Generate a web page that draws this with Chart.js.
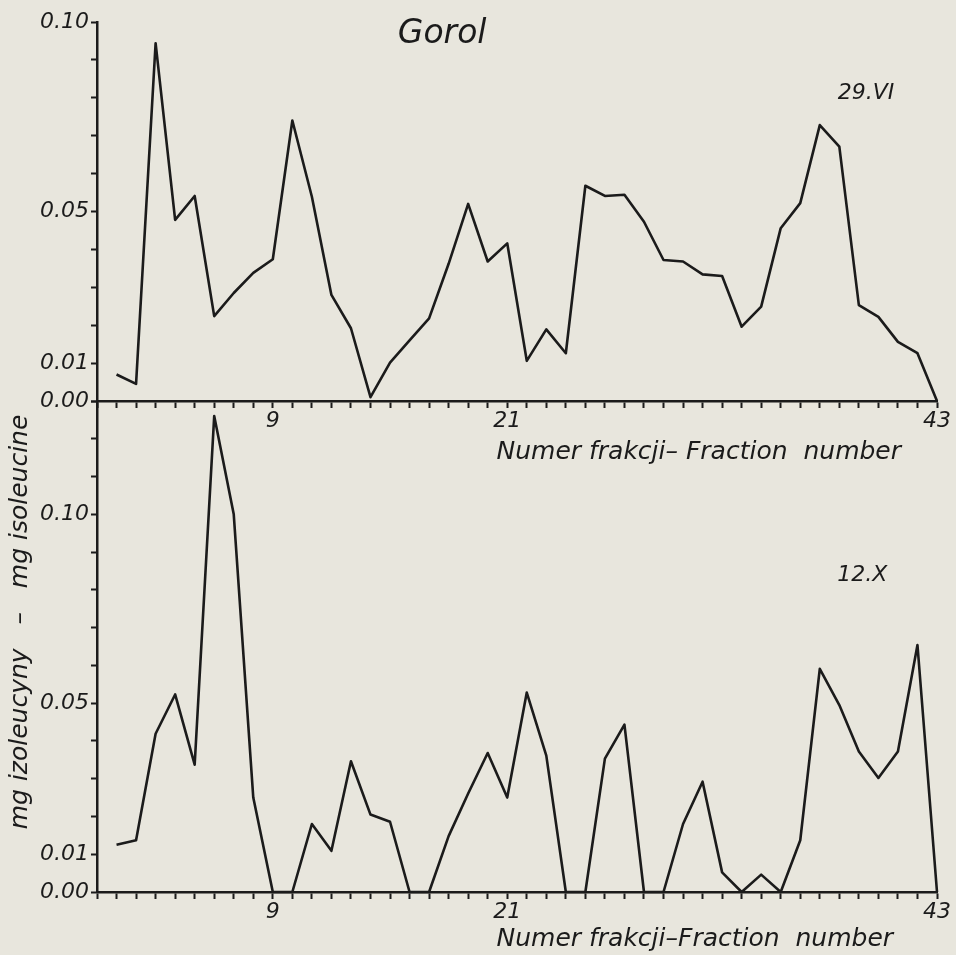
<!DOCTYPE html>
<html>
<head>
<meta charset="utf-8">
<script src="https://cdn.jsdelivr.net/npm/chart.js@4.4.1/dist/chart.umd.min.js"></script>
<style>
    html, body { margin: 0; padding: 0; background: #e8e6dd; }
    #wrap { position: relative; width: 956px; height: 955px; overflow: hidden; }
    canvas { position: absolute; left: 0; }
    #chartJune { top: 0; }
    #chartOctober { top: 380px; }
</style>
</head>
<body>
<div id="wrap">
    <canvas id="chartJune" width="956" height="480"></canvas>
    <canvas id="chartOctober" width="956" height="575"></canvas>
</div>
<script>
// fraction numbers on the x axis
const fractions = [1, 2, 3, 4, 5, 6, 7, 8, 9, 10, 11, 12, 13, 14, 15, 16, 17, 18, 19, 20, 21, 22,
    23, 24, 25, 26, 27, 28, 29, 30, 31, 32, 33, 34, 35, 36, 37, 38, 39, 40, 41, 42, 43];

// mg isoleucine, 29.VI
const june = [0.007, 0.0045, 0.0944, 0.0478, 0.0541, 0.0224, 0.0285, 0.0338, 0.0374, 0.074, 0.0539,
    0.028, 0.0192, 0.001, 0.0101, 0.016, 0.0218, 0.0362, 0.052, 0.0368, 0.0416, 0.0106, 0.0189,
    0.0126, 0.0568, 0.0541, 0.0544, 0.0473, 0.0372, 0.0368, 0.0334, 0.033, 0.0196, 0.0249, 0.0456,
    0.0522, 0.0728, 0.0671, 0.0253, 0.0222, 0.0156, 0.0126, 0];

// mg isoleucine, 12.X
const october = [0.0125, 0.0137, 0.0419, 0.0523, 0.0337, 0.126, 0.1, 0.025, 0, 0, 0.018, 0.0109,
    0.0346, 0.0205, 0.0186, 0, 0, 0.0148, 0.0261, 0.0368, 0.025, 0.0528, 0.0361, 0, 0, 0.0353,
    0.0443, 0, 0, 0.018, 0.0292, 0.0052, 0, 0.0046, 0, 0.0137, 0.0591, 0.0495, 0.0372, 0.0302,
    0.0372, 0.0654, 0];

const xTickLabels = [9, 21, 43];
const yTickLabels = [0, 0.01, 0.05, 0.10];

const INK = '#1b1b1b';
const FAMILY = '"DejaVu Sans", sans-serif';

// free text placed in data coordinates
const notesPlugin = {
    id: 'notes',
    afterDraw(chart, args, opts) {
        const ctx = chart.ctx;
        const xs = chart.scales.x;
        const ys = chart.scales.y;
        (opts.items || []).forEach(n => {
            ctx.save();
            ctx.font = 'italic ' + n.size + 'px ' + FAMILY;
            ctx.fillStyle = INK;
            ctx.textAlign = n.align || 'center';
            ctx.textBaseline = 'middle';
            ctx.translate(xs.getPixelForValue(n.x), ys.getPixelForValue(n.y));
            if (n.rotate) ctx.rotate(n.rotate);
            ctx.fillText(n.text, 0, 0);
            ctx.restore();
        });
    }
};

function FractionChart(canvas, options) {
    const tickFont = { family: FAMILY, size: 22, style: 'italic' };

    new Chart(canvas, {
        type: 'line',
        data: {
            datasets: [{
                data: options.values.map((v, i) => ({ x: fractions[i], y: v })),
                borderColor: INK,
                borderWidth: 2.6,
                borderJoinStyle: 'round',
                tension: 0,
                pointRadius: 0,
                pointHoverRadius: 0,
                fill: false,
                clip: false
            }]
        },
        options: {
            responsive: false,
            animation: false,
            devicePixelRatio: 1,
            events: [],
            layout: {
                padding: { top: options.top, right: 19, left: 0, bottom: 0 }
            },
            plugins: {
                legend: { display: false },
                tooltip: { enabled: false },
                notes: { items: options.notes }
            },
            scales: {
                x: {
                    type: 'linear',
                    min: 0,
                    max: 43,
                    afterFit: s => { s.height = options.axisHeight; },
                    grid: {
                        drawOnChartArea: false,
                        tickLength: 7,
                        tickWidth: 2,
                        tickColor: INK
                    },
                    border: { color: INK, width: 2.5 },
                    ticks: {
                        stepSize: 1,
                        autoSkip: false,
                        maxRotation: 0,
                        padding: 0,
                        color: INK,
                        font: tickFont,
                        callback: v => xTickLabels.includes(v) ? String(v) : ''
                    }
                },
                y: {
                    min: 0,
                    max: options.max,
                    afterFit: s => { s.width = 97; },
                    grid: {
                        drawOnChartArea: false,
                        tickLength: 6,
                        tickWidth: 2,
                        tickColor: INK
                    },
                    border: { color: INK, width: 2.5 },
                    ticks: {
                        stepSize: 0.01,
                        autoSkip: false,
                        padding: 2,
                        color: INK,
                        font: tickFont,
                        callback: v => yTickLabels.includes(Math.round(v * 100) / 100) ? v.toFixed(2) : ''
                    }
                }
            }
        },
        plugins: [notesPlugin]
    });
}

FractionChart(document.getElementById('chartJune'), {
    values: june,
    max: 0.10,
    top: 22,
    axisHeight: 79,
    notes: [
        { text: 'Gorol', x: 17.67, y: 0.0968, size: 33 },
        { text: '29.VI', x: 39.37, y: 0.0811, size: 22 },
        { text: 'Numer frakcji\u2013 Fraction  number', x: 20.45, y: -0.0135, size: 25, align: 'left' }
    ]
});

FractionChart(document.getElementById('chartOctober'), {
    values: october,
    max: 0.13,
    top: 21,
    axisHeight: 63,
    notes: [
        { text: '12.X', x: 39.17, y: 0.0839, size: 22 },
        { text: 'Numer frakcji\u2013Fraction  number', x: 20.45, y: -0.0127, size: 25, align: 'left' },
        { text: 'mg izoleucyny   \u2013   mg isoleucine', x: -3.9, y: 0.0715, size: 25, rotate: -Math.PI / 2 }
    ]
});
</script>
</body>
</html>
